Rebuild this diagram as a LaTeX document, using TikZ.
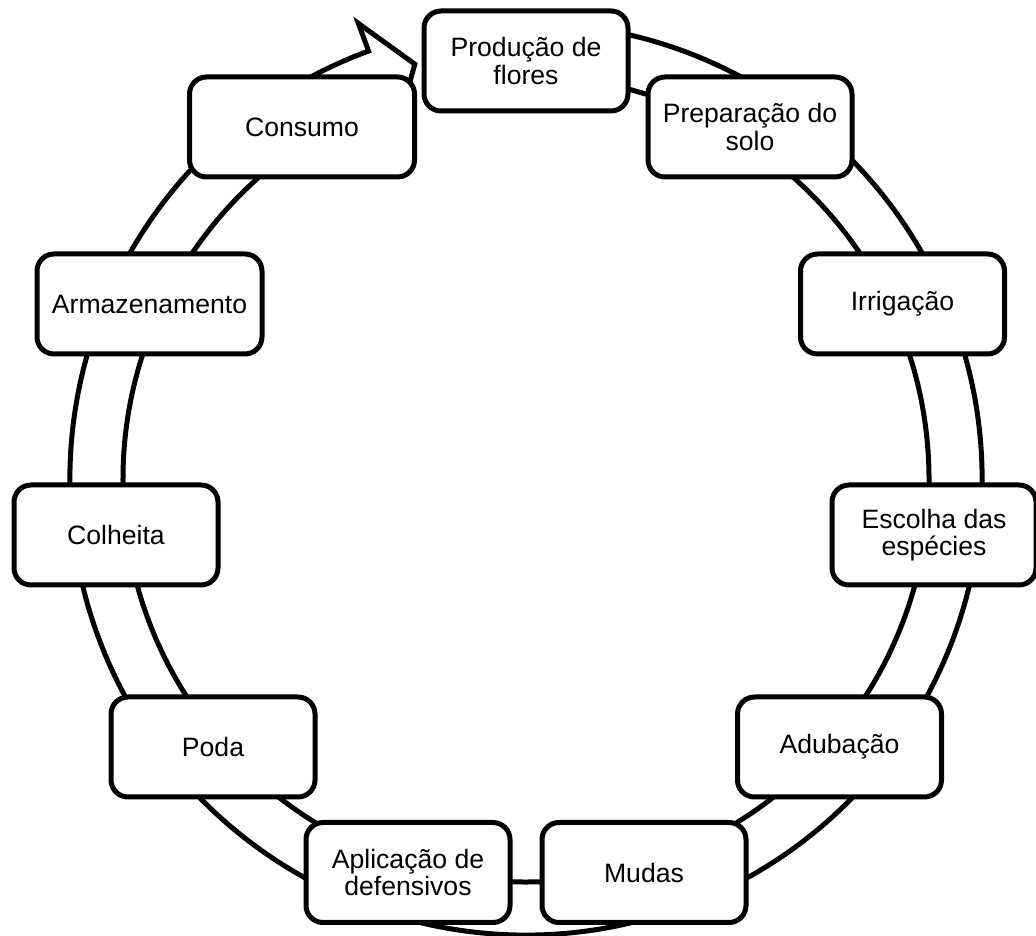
\documentclass[tikz,border=0pt]{standalone}
\usepackage{fontspec}
\setmainfont{Liberation Sans}
\begin{document}
\begin{tikzpicture}[x=1pt,y=1pt,
  stage/.style={draw=black, line width=5pt, fill=white, rounded corners=17pt,
    minimum width=204pt, minimum height=100pt, align=center, inner sep=0pt,
    font=\fontsize{26.6}{27.5}\selectfont},
  widestage/.style={stage, minimum width=225pt},
  ringline/.style={draw=black, line width=5pt, fill=white, line join=miter}]
\useasboundingbox (0,0) rectangle (1036,936);
\coordinate (c) at (526,457);
\draw[ringline] ([shift={(105:429.5pt)}]c) coordinate (tip)
  -- ([shift={(110.2:485.5pt)}]c) coordinate (barbout)
  -- ([shift={(110.2:456pt)}]c)
  arc[start angle=110.2, end angle=455, radius=456pt]
  -- ([shift={(455:403pt)}]c)
  arc[start angle=455, end angle=110.2, radius=403pt]
  -- ([shift={(110.2:373.5pt)}]c) coordinate (barbin)
  -- cycle;
\node[stage] (producao) at (526,875) {Produção de\\flores};
\node[stage] (preparacao) at (750,809) {Preparação do\\solo};
\node[stage] (irrigacao) at (902.5,632) {Irrigação};
\node[stage] (escolha) at (934,401) {Escolha das\\espécies};
\node[stage] (adubacao) at (839.5,189) {Adubação};
\node[stage] (mudas) at (644,63.5) {Mudas};
\node[stage] (aplicacao) at (408,63.5) {Aplicação de\\defensivos};
\node[stage] (poda) at (213,189) {Poda};
\node[stage] (colheita) at (116,401) {Colheita};
\node[widestage] (armazenamento) at (149.5,632) {Armazenamento};
\node[widestage] (consumo) at (302,809) {Consumo};
\end{tikzpicture}
\end{document}
